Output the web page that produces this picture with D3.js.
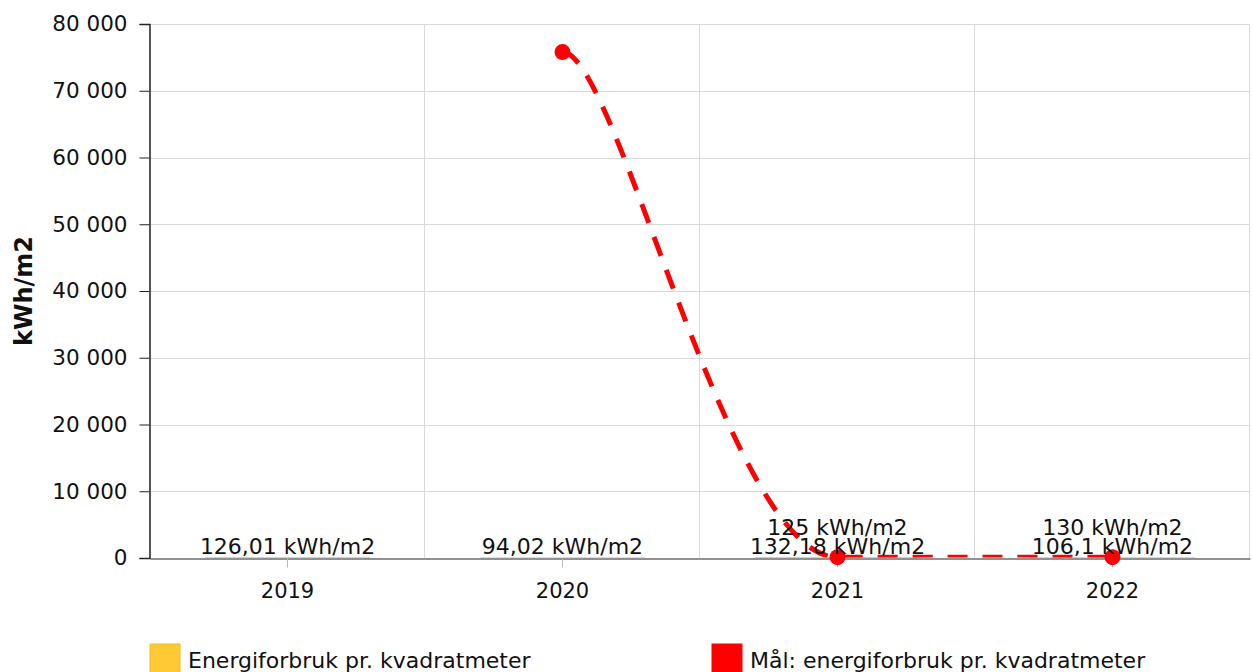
<!DOCTYPE html>
<html>
<head>
<meta charset="utf-8">
<script src="https://cdn.jsdelivr.net/npm/d3@7"></script>
<style>
  html, body { margin: 0; padding: 0; background: #fff; overflow: hidden; }
  svg { display: block; font-family: "DejaVu Sans", Verdana, sans-serif; }
</style>
</head>
<body>
<svg id="chart" width="1253" height="672"></svg>
<script>
// ---- data ----
const categories = ["2019", "2020", "2021", "2022"];
const energyValues = [126.01, 94.02, 132.18, 106.1];
const targetValues = [null, 75800, 125, 130];
const energyLabels = ["126,01 kWh/m2", "94,02 kWh/m2", "132,18 kWh/m2", "106,1 kWh/m2"];
const targetLabels = [null, null, "125 kWh/m2", "130 kWh/m2"];
const yTickValues = [0, 10000, 20000, 30000, 40000, 50000, 60000, 70000, 80000];
const yTitle = "kWh/m2";
const legendNames = ["Energiforbruk pr. kvadratmeter", "Mål: energiforbruk pr. kvadratmeter"];

// ---- layout ----
const svg = d3.select("#chart");
const plot = { left: 150, right: 1250, top: 24, bottom: 558 };
const colors = { energy: "#ffc935", energyStroke: "#f5bc22", target: "#ff0000" };

const x = d3.scaleBand().domain(categories).range([plot.left, plot.right]).paddingInner(0).paddingOuter(0);
const y = d3.scaleLinear().domain([0, 80000]).range([plot.bottom, plot.top]);
const locale = d3.formatLocale({ decimal: ",", thousands: "\u00a0", grouping: [3], currency: ["", ""] });
const fmt = v => locale.format(",")(v).replace(/\u00a0/g, " ");

// clip
svg.append("defs").append("clipPath").attr("id", "plotClip")
  .append("rect").attr("x", plot.left).attr("y", plot.top - 2)
  .attr("width", plot.right - plot.left).attr("height", plot.bottom - plot.top + 1.5);

// horizontal grid
svg.append("g").selectAll("line").data(yTickValues.filter(d => d > 0)).join("line")
  .attr("x1", plot.left).attr("x2", plot.right)
  .attr("y1", d => Math.round(y(d)) + 0.5).attr("y2", d => Math.round(y(d)) + 0.5)
  .attr("stroke", "#d9d9d9").attr("stroke-width", 1);

// vertical grid at category boundaries
const bounds = categories.slice(1).map(c => x(c)).concat([plot.right]);
svg.append("g").selectAll("line").data(bounds).join("line")
  .attr("x1", d => Math.round(d) - 0.5).attr("x2", d => Math.round(d) - 0.5)
  .attr("y1", plot.top).attr("y2", plot.bottom)
  .attr("stroke", "#d9d9d9").attr("stroke-width", 1);

// bars (energy)
const barW = x.bandwidth() * 0.6;
svg.append("g").selectAll("rect").data(energyValues).join("rect")
  .attr("x", (d, i) => x(categories[i]) + (x.bandwidth() - barW) / 2)
  .attr("width", barW)
  .attr("y", d => y(d))
  .attr("height", d => y(0) - y(d))
  .attr("fill", colors.energy);

// y axis
const yAxis = d3.axisLeft(y).tickValues(yTickValues).tickFormat(fmt).tickSize(10).tickPadding(12);
const gy = svg.append("g").attr("transform", `translate(${plot.left - 0.5},0)`).call(yAxis);
gy.select(".domain").attr("stroke", "#222").attr("stroke-width", 1.5);
gy.selectAll(".tick line").attr("stroke", "#222");
gy.selectAll(".tick text").attr("font-size", 21.5).attr("fill", "#111").attr("font-family", "DejaVu Sans, Verdana, sans-serif");

// x axis
const xAxis = d3.axisBottom(x).tickSize(9).tickSizeOuter(0).tickPadding(16);
const gx = svg.append("g").attr("transform", `translate(0,${plot.bottom + 0.5})`).call(xAxis);
gx.select(".domain").attr("stroke", "#6d6d6d").attr("stroke-width", 1.5);
gx.selectAll(".tick line").attr("stroke", "#bbb");
gx.selectAll(".tick text").attr("font-size", 21).attr("fill", "#111").attr("font-family", "DejaVu Sans, Verdana, sans-serif");

// y title
svg.append("text")
  .attr("transform", `translate(32,${(plot.top + plot.bottom) / 2}) rotate(-90)`)
  .attr("text-anchor", "middle")
  .attr("font-size", 24).attr("font-weight", "bold").attr("fill", "#111")
  .text(yTitle);

// target line: smooth curve with horizontal tangents
function hSpline(context) {
  return {
    areaStart() {}, areaEnd() {},
    lineStart() { this._p = []; },
    point(px, py) { this._p.push([+px, +py]); },
    lineEnd() {
      const p = this._p;
      if (!p.length) return;
      context.moveTo(p[0][0], p[0][1]);
      for (let i = 1; i < p.length; i++) {
        const [x0, y0] = p[i - 1], [x1, y1] = p[i];
        const dx = x1 - x0;
        const k0 = i === 1 ? 0.2 : 0.4;
        context.bezierCurveTo(x0 + k0 * dx, y0, x1 - 0.4 * dx, y1, x1, y1);
      }
    }
  };
}
const targetPts = categories.map((c, i) => ({ c, v: targetValues[i] })).filter(d => d.v != null);
const line = d3.line()
  .x(d => x(d.c) + x.bandwidth() / 2)
  .y(d => y(d.v))
  .curve(hSpline);
svg.append("path")
  .attr("clip-path", "url(#plotClip)")
  .attr("d", line(targetPts))
  .attr("fill", "none")
  .attr("stroke", colors.target)
  .attr("stroke-width", 5)
  .attr("stroke-dasharray", "20,15");

svg.append("g").selectAll("circle").data(targetPts).join("circle")
  .attr("cx", d => x(d.c) + x.bandwidth() / 2)
  .attr("cy", d => y(d.v))
  .attr("r", 8)
  .attr("fill", colors.target);

// data labels
svg.append("g").selectAll("text").data(energyLabels).join("text")
  .attr("x", (d, i) => x(categories[i]) + x.bandwidth() / 2)
  .attr("y", plot.bottom - 4)
  .attr("text-anchor", "middle").attr("font-size", 22).attr("fill", "#111")
  .text(d => d);
svg.append("g").selectAll("text").data(targetLabels.map((t, i) => ({ t, i })).filter(d => d.t)).join("text")
  .attr("x", d => x(categories[d.i]) + x.bandwidth() / 2)
  .attr("y", plot.bottom - 23)
  .attr("text-anchor", "middle").attr("font-size", 22).attr("fill", "#111")
  .text(d => d.t);

// legend
const legendX = [150, 712];
const legendColors = [colors.energy, colors.target];
const lg = svg.append("g");
legendNames.forEach((name, i) => {
  lg.append("rect").attr("x", legendX[i]).attr("y", 644).attr("width", 30).attr("height", 30)
    .attr("fill", legendColors[i]).attr("stroke", i === 0 ? colors.energyStroke : colors.target).attr("stroke-width", 1);
  lg.append("text").attr("x", legendX[i] + 38).attr("y", 668)
    .attr("font-size", 22).attr("fill", "#111").text(name);
});
</script>
</body>
</html>
